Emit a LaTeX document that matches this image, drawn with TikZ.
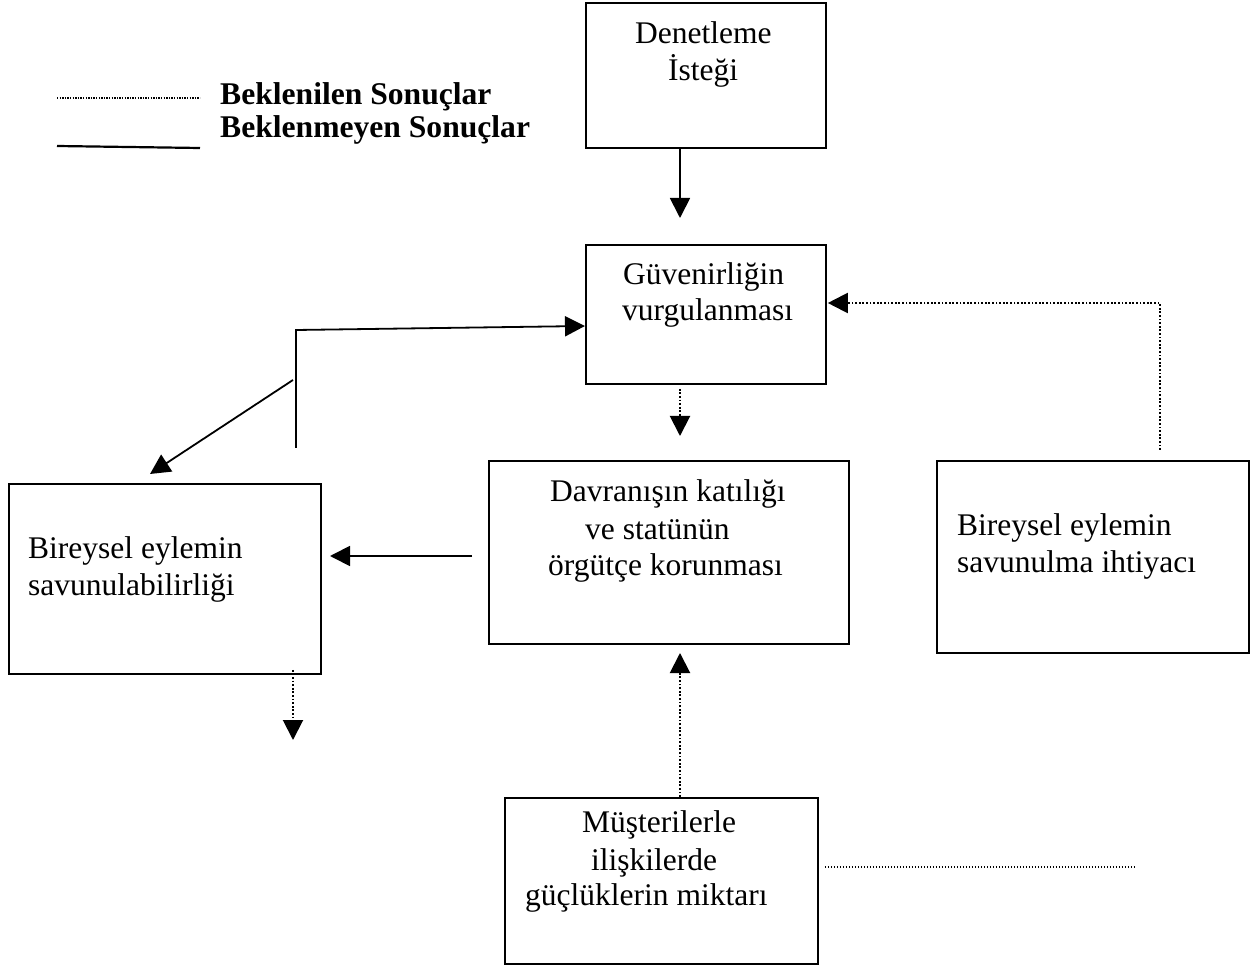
\documentclass[tikz,border=0pt]{standalone}
\usepackage{fontspec}
\setmainfont{Liberation Serif}
\usetikzlibrary{arrows.meta,calc}
\begin{document}
\begin{tikzpicture}[x=1pt,y=-1pt,
  box/.style={draw,line width=1.8pt,rectangle,inner sep=0pt,anchor=north west},
  txt/.style={anchor=base west,inner sep=0pt,font=\fontsize{31.5}{36}\selectfont},
  btxt/.style={anchor=base west,inner sep=0pt,font=\fontsize{31.6}{36}\selectfont\bfseries},
  solidln/.style={line width=1.8pt},
  dotln/.style={line width=2pt,dash pattern=on 1.8pt off 1.8pt},
  tipend/.style={-{Triangle[width=20pt,length=20pt]}}]
\useasboundingbox (0,0) rectangle (1251,965);

% boxes
\node[box,minimum width=240pt,minimum height=145pt] (den) at (585,2) {};
\node[box,minimum width=240pt,minimum height=139pt] (gue) at (585,244) {};
\node[box,minimum width=360pt,minimum height=183pt] (dav) at (488,460) {};
\node[box,minimum width=312pt,minimum height=190pt] (bsl) at (8,483) {};
\node[box,minimum width=312pt,minimum height=192pt] (bsi) at (936,460) {};
\node[box,minimum width=313pt,minimum height=166pt] (mus) at (504,797) {};

% texts
\node[txt] (t1a) at (635,43.5) {Denetleme};
\node[txt] (t1b) at (668,81) {İsteği};
\node[txt] (t2a) at (623,285) {Güvenirliğin};
\node[txt] (t2b) at (622,321) {vurgulanması};
\node[txt] (t3a) at (550,502) {Davranışın katılığı};
\node[txt] (t3b) at (585,539) {ve statünün};
\node[txt] (t3c) at (548,575) {örgütçe korunması};
\node[txt] (t4a) at (28,558) {Bireysel eylemin};
\node[txt] (t4b) at (28,595) {savunulabilirliği};
\node[txt] (t5a) at (957,536) {Bireysel eylemin};
\node[txt] (t5b) at (957,572) {savunulma ihtiyacı};
\node[txt] (t6a) at (582,832) {Müşterilerle};
\node[txt] (t6b) at (591,870) {ilişkilerde};
\node[txt] (t6c) at (525,905) {güçlüklerin miktarı};

% legend
\node[btxt] (lg1) at (220,105) {Beklenilen Sonuçlar};
\node[btxt] (lg2) at (220,138) {Beklenmeyen Sonuçlar};
\coordinate (l1a) at (57,98);
\coordinate (l1b) at (200,98);
\coordinate (l2a) at (57,146);
\coordinate (l2b) at (200,148);
\draw[line width=1.3pt,dash pattern=on 1.3pt off 1.3pt] (l1a) -- (l1b);
\draw[line width=2.2pt] (l2a) -- (l2b);

% connector end points
\coordinate (a1e) at (680,218);
\coordinate (a2e) at (680,436);
\coordinate (c3a) at (296,448);
\coordinate (c3b) at (296,330);
\coordinate (c4a) at (293,380);
\coordinate (c4e) at (150,474);
\coordinate (c5a) at (472,556);
\coordinate (c5e) at (330,556);
\coordinate (a6e) at (293,740);
\coordinate (a7e) at (680,653);
\coordinate (c8a) at (1160,450);
\coordinate (c8b) at (1160,303);
\coordinate (c9e) at (1135,867);

% connectors
\draw[solidln,tipend] ($(den.south west)+(95,0)$) -- (a1e);
\draw[dotln,tipend] ($(gue.south west)+(95,4)$) -- (a2e);
\draw[solidln,tipend] (c3a) -- (c3b) -- ($(gue.north west)+(0,82)$);
\draw[solidln,tipend] (c4a) -- (c4e);
\draw[solidln,tipend] (c5a) -- (c5e);
\draw[dotln,tipend] ($(bsl.south west)+(285,-5)$) -- (a6e);
\draw[dotln,tipend] ($(mus.north west)+(176,0)$) -- (a7e);
\draw[dotln,tipend] (c8a) -- (c8b) -- ($(gue.north east)+(1,59)$);
\draw[line width=1.5pt,dash pattern=on 1.5pt off 1.5pt] ($(mus.north east)+(6,70)$) -- (c9e);
\end{tikzpicture}
\end{document}
